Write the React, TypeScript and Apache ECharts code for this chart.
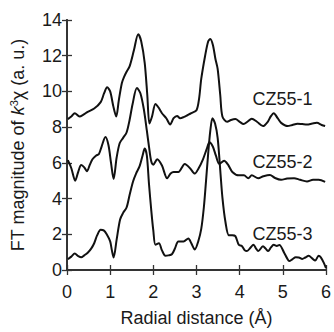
import React, { useEffect, useRef } from "react";
import * as echarts from "echarts";

// Radial distance (Å) / FT magnitude pairs
const cz551X = [0.02,0.1,0.18,0.29,0.38,0.48,0.63,0.78,0.86,0.93,1.0,1.07,1.14,1.2,1.27,1.32,1.38,1.45,1.55,1.65,1.72,1.8,1.86,1.91,1.97,2.05,2.12,2.2,2.3,2.39,2.47,2.55,2.62,2.7,2.8,2.88,3.0,3.06,3.11,3.2,3.27,3.32,3.38,3.44,3.49,3.55,3.6,3.71,3.8,3.9,4.0,4.09,4.18,4.28,4.4,4.54,4.65,4.72,4.79,4.88,4.96,5.11,5.22,5.34,5.45,5.56,5.68,5.79,5.9,5.98];
const cz551Y = [8.45,8.6,8.78,8.6,8.7,8.86,9.04,9.4,9.9,10.23,10.0,9.2,8.6,9.5,10.46,10.8,11.1,11.4,12.3,13.2,12.8,11.6,9.8,8.2,8.6,9.3,9.1,8.78,8.5,8.15,8.5,8.63,8.5,8.56,8.68,8.78,8.95,9.6,10.7,12.0,12.8,12.94,12.6,11.8,11.26,9.8,8.6,8.3,8.4,8.45,8.3,8.17,8.3,8.47,8.3,8.06,8.3,8.6,8.78,8.5,8.24,8.06,8.12,8.19,8.17,8.15,8.2,8.24,8.12,8.06];

const cz552X = [0.02,0.1,0.19,0.26,0.33,0.4,0.46,0.53,0.59,0.67,0.74,0.8,0.89,0.96,1.02,1.08,1.15,1.22,1.3,1.38,1.45,1.52,1.62,1.7,1.78,1.85,1.9,1.95,2.0,2.09,2.2,2.32,2.4,2.47,2.58,2.73,2.85,2.96,3.05,3.15,3.24,3.3,3.38,3.45,3.53,3.64,3.73,3.83,3.98,4.1,4.2,4.28,4.43,4.55,4.7,4.82,4.96,5.1,5.26,5.4,5.56,5.7,5.83,5.98];
const cz552Y = [6.15,5.7,5.0,5.5,5.88,5.75,5.53,5.9,6.2,6.4,6.5,6.9,7.45,7.0,6.0,5.1,6.3,7.1,7.4,7.7,8.4,9.3,10.19,9.9,9.0,7.8,6.9,6.1,5.9,6.2,5.85,5.14,5.4,5.49,5.49,5.94,5.7,5.4,5.7,6.2,6.8,7.15,6.9,6.4,5.94,6.12,5.9,5.49,5.3,5.3,5.14,5.3,5.14,5.25,5.32,5.15,5.05,5.12,5.14,5.05,4.96,5.05,5.05,4.93];

const cz553X = [0.02,0.1,0.18,0.26,0.33,0.4,0.48,0.56,0.63,0.7,0.78,0.85,0.92,1.0,1.04,1.08,1.15,1.23,1.3,1.38,1.45,1.53,1.6,1.68,1.75,1.8,1.85,1.9,1.95,2.0,2.05,2.13,2.2,2.28,2.35,2.43,2.5,2.58,2.7,2.81,2.88,2.96,3.04,3.11,3.17,3.22,3.27,3.32,3.37,3.43,3.49,3.55,3.6,3.67,3.75,3.83,3.9,3.98,4.05,4.12,4.17,4.25,4.32,4.38,4.43,4.54,4.6,4.66,4.72,4.79,4.86,4.92,5.03,5.1,5.15,5.22,5.3,5.37,5.45,5.52,5.6,5.68,5.75,5.83,5.88,5.95,6.0];
const cz553Y = [0.6,0.75,0.92,0.78,0.71,0.82,0.97,1.2,1.5,1.95,2.25,2.22,2.0,1.6,1.1,0.7,1.7,2.83,3.2,3.5,4.2,4.96,5.4,5.8,6.4,6.8,6.4,4.8,3.4,2.2,1.41,1.5,1.1,0.8,0.82,0.88,1.2,1.6,1.6,1.77,1.5,1.15,1.6,2.3,3.5,4.96,6.5,7.8,8.5,8.2,7.4,5.6,4.07,2.7,1.95,1.95,1.9,1.41,1.35,1.1,1.06,1.25,1.41,1.2,1.06,1.33,1.2,1.06,1.25,1.41,1.35,1.4,0.97,0.65,0.5,0.6,0.71,0.7,0.62,0.7,0.8,0.65,0.53,0.8,0.71,0.4,0.1];

const seriesNames = ["CZ55-1", "CZ55-2", "CZ55-3"];
const xTicks = ["0", "1", "2", "3", "4", "5", "6"];
const yTicks = ["0", "2", "4", "6", "8", "10", "12", "14"];

// label anchors (data coords: right edge, vertical middle)
const labelAnchors = [
  [5.69, 9.59],
  [5.69, 6.03],
  [5.69, 2.04],
];

const zip = (xs: number[], ys: number[]) => xs.map((x, i) => [x, ys[i]]);

const FONT = "'Liberation Sans', Arial, Helvetica, sans-serif";
const INK = "#1a1a1a";
const AXIS = "#333";

export default function App() {
  const ref = useRef<HTMLDivElement>(null);
  useEffect(() => {
    if (!ref.current) return;
    const chart = echarts.init(ref.current, undefined, { renderer: "svg" });
    const datasets = [zip(cz551X, cz551Y), zip(cz552X, cz552Y), zip(cz553X, cz553Y)];
    const axisCommon = {
      type: "value" as const,
      axisLine: { show: true, lineStyle: { color: AXIS, width: 1.8 } },
      axisTick: { show: true, inside: true, length: 5, lineStyle: { color: AXIS, width: 1.3 } },
      splitLine: { show: false },
    };
    chart.setOption({
      animation: false,
      backgroundColor: "#fff",
      textStyle: { fontFamily: FONT, color: INK },
      grid: { left: 67, right: 1.3, top: 20, bottom: 48, containLabel: false },
      xAxis: [
        {
          ...axisCommon,
          position: "bottom",
          min: 0,
          max: 6,
          interval: 1,
          axisLabel: {
            fontSize: 18,
            color: INK,
            fontFamily: FONT,
            margin: 13,
            formatter: (v: number) => xTicks[Math.round(v)] ?? "",
          },
          name: "Radial distance (Å)",
          nameLocation: "middle",
          nameGap: 39,
          nameTextStyle: { fontSize: 18, color: INK, fontFamily: FONT },
        },
        {
          ...axisCommon,
          position: "top",
          min: 0,
          max: 6,
          interval: 1,
          axisLabel: { show: false },
        },
      ],
      yAxis: [
        {
          ...axisCommon,
          position: "left",
          min: 0,
          max: 14,
          interval: 2,
          axisLabel: {
            fontSize: 18,
            color: INK,
            fontFamily: FONT,
            margin: 5,
            formatter: (v: number) => yTicks[Math.round(v / 2)] ?? "",
          },
          name: "FT magnitude of {i|k}{sup|3}χ (a. u.)",
          nameLocation: "middle",
          nameGap: 40,
          nameRotate: 90,
          nameTextStyle: {
            fontSize: 18,
            color: INK,
            fontFamily: FONT,
            rich: {
              i: { fontSize: 18, fontStyle: "italic", color: INK, fontFamily: FONT },
              sup: { fontSize: 11, color: INK, fontFamily: FONT, verticalAlign: "top", padding: [0, 0, 8, 0] },
            },
          },
        },
        {
          ...axisCommon,
          position: "right",
          min: 0,
          max: 14,
          interval: 2,
          axisLabel: { show: false },
        },
      ],
      series: datasets.map((d, i) => ({
        name: seriesNames[i],
        type: "line",
        data: d,
        smooth: 0.3,
        showSymbol: false,
        symbol: "none",
        lineStyle: { color: "#111", width: 2 },
        silent: true,
        markPoint: {
          symbol: "circle",
          symbolSize: 0,
          silent: true,
          data: [
            {
              coord: labelAnchors[i],
              label: {
                show: true,
                formatter: seriesNames[i],
                position: "left",
                distance: 0,
                fontSize: 18,
                color: INK,
                fontFamily: FONT,
              },
            },
          ],
        },
      })),
    });
    return () => chart.dispose();
  }, []);
  return (
    <div
      ref={ref}
      style={{ position: "fixed", left: 0, top: 0, width: 334, height: 332, background: "#fff" }}
    />
  );
}
